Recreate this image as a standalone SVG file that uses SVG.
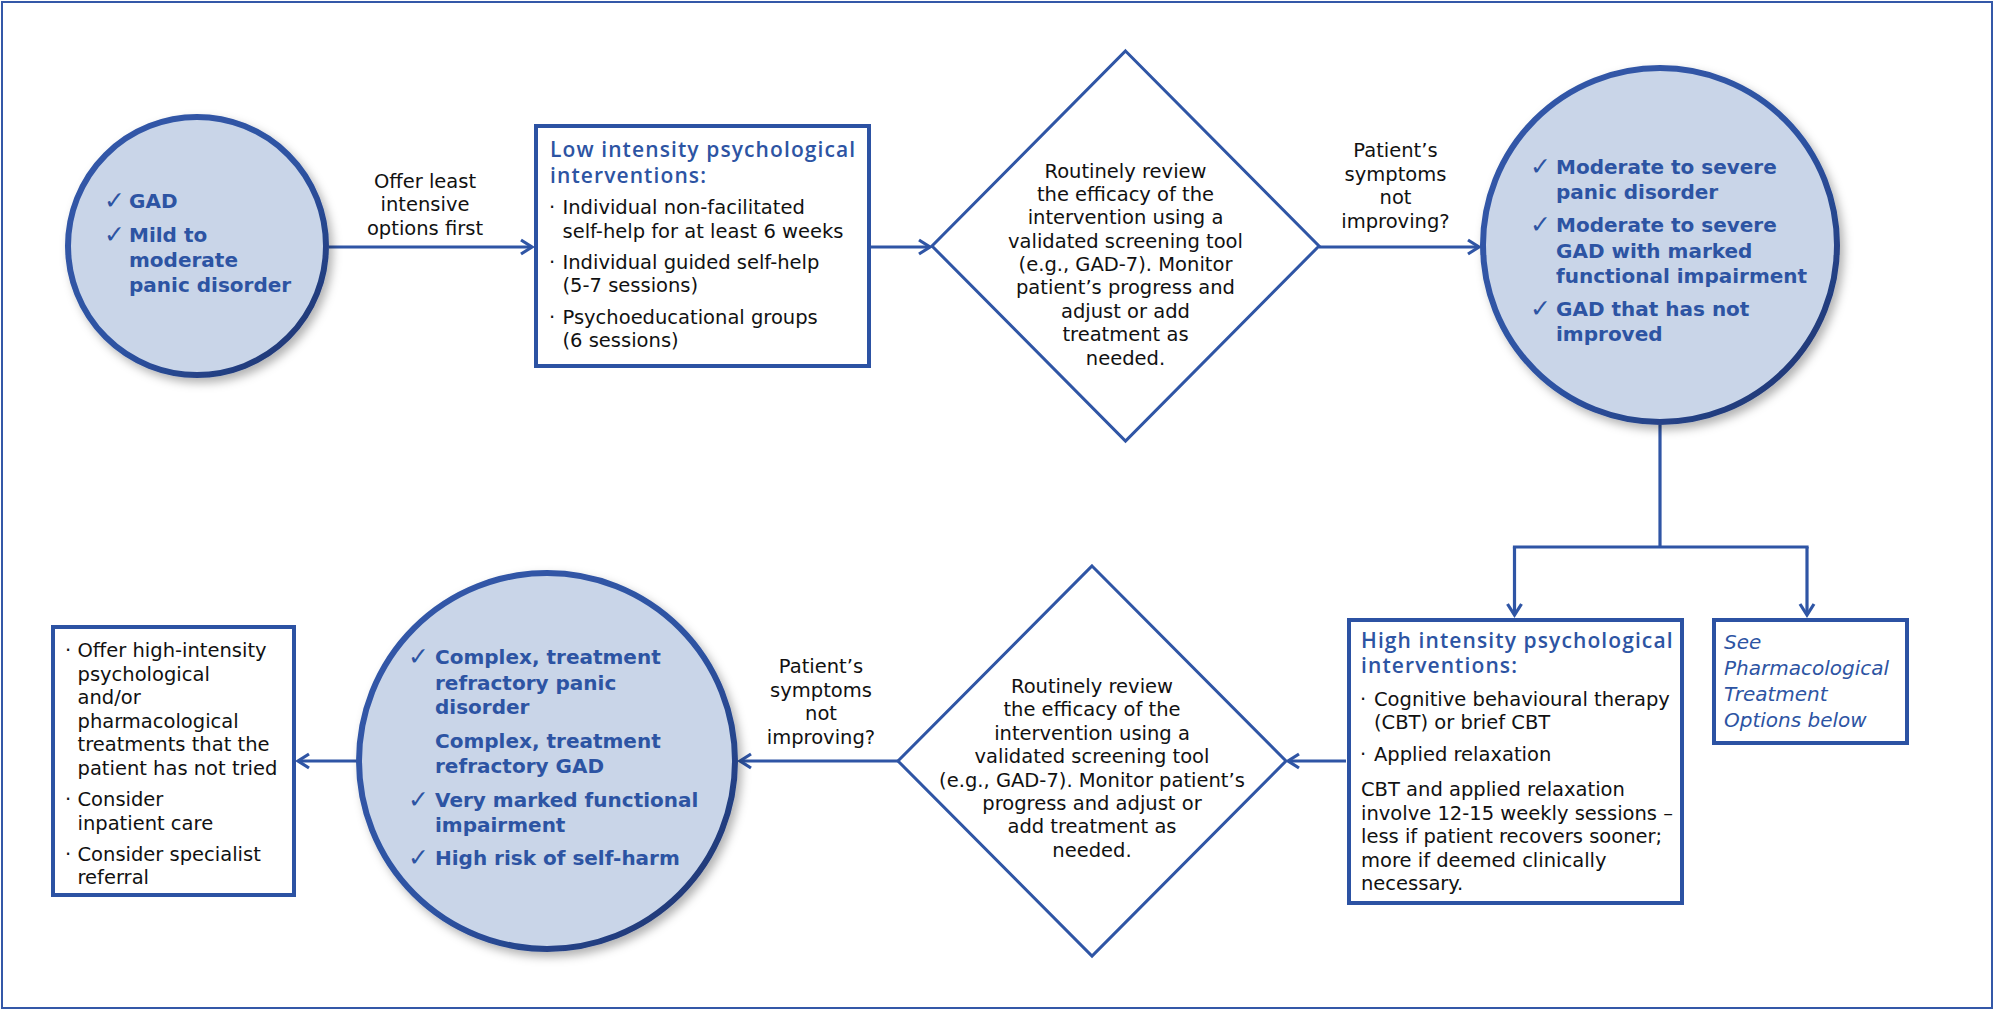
<svg xmlns="http://www.w3.org/2000/svg" width="1994" height="1010" viewBox="0 0 1994 1010">
<defs>
<style>
.bg{fill:#ffffff}
.frame{fill:none;stroke:#3458a8;stroke-width:2}
.circ{fill:#c9d5e8;stroke:url(#ringGrad);stroke-width:6;filter:url(#shadow)}
.box{fill:#ffffff;stroke:#2c52a3;stroke-width:4}
.dia{fill:#ffffff;stroke:#2f55a5;stroke-width:3}
.conn{fill:none;stroke:#2f55a5;stroke-width:3.2}
.sq{stroke-linecap:square}
.txt{font-family:"DejaVu Sans","Liberation Sans",sans-serif;font-size:19.5px;fill:#111111}
.mid{text-anchor:middle}
.bold{font-family:"DejaVu Sans","Liberation Sans",sans-serif;font-size:20px;font-weight:bold;fill:#2d54a3}
.ttl{font-family:"Open Sans","DejaVu Sans",sans-serif;font-size:21px;font-weight:600;fill:#2d54a3;letter-spacing:1.1px}
.ital{font-family:"DejaVu Sans","Liberation Sans",sans-serif;font-size:20px;font-style:italic;fill:#2d54a3}
.chk{font-family:"DejaVu Sans",sans-serif;font-size:25px;font-weight:normal;fill:#2d54a3}
</style>
<linearGradient id="ringGrad" x1="0" y1="0" x2="1" y2="1">
<stop offset="0" stop-color="#3459a9"/>
<stop offset="0.55" stop-color="#2d52a2"/>
<stop offset="1" stop-color="#1c3068"/>
</linearGradient>
<filter id="shadow" x="-20%" y="-20%" width="140%" height="140%">
<feDropShadow dx="4" dy="5" stdDeviation="5" flood-color="#000000" flood-opacity="0.3"/>
</filter>
<marker id="chev" markerUnits="userSpaceOnUse" viewBox="-14 -10 16 20" refX="0" refY="0" markerWidth="16" markerHeight="20" orient="auto" overflow="visible">
<path d="M-11,-7 L0,0 L-11,7" fill="none" stroke="#2f55a5" stroke-width="3.2"/>
</marker>
</defs>

<rect class="bg" x="0" y="0" width="1994" height="1010"/>
<rect class="frame" x="2" y="2" width="1990" height="1006"/>

<g id="connectors">
<line class="conn" x1="329" y1="247" x2="532" y2="247" marker-end="url(#chev)"/>
<line class="conn" x1="871" y1="247" x2="930" y2="247" marker-end="url(#chev)"/>
<line class="conn" x1="1319" y1="247" x2="1479" y2="247" marker-end="url(#chev)"/>
<polyline class="conn" points="1660,425 1660,547"/>
<polyline class="conn sq" points="1514.5,547 1807,547"/>
<line class="conn" x1="1514.5" y1="547" x2="1514.5" y2="615" marker-end="url(#chev)"/>
<line class="conn" x1="1807" y1="547" x2="1807" y2="615" marker-end="url(#chev)"/>
<line class="conn" x1="1346" y1="761" x2="1288" y2="761" marker-end="url(#chev)"/>
<line class="conn" x1="898" y1="761" x2="740" y2="761" marker-end="url(#chev)"/>
<line class="conn" x1="356" y1="761" x2="298" y2="761" marker-end="url(#chev)"/>
<g class="txt mid">
<text x="425" y="187.5">Offer least</text>
<text x="425" y="211">intensive</text>
<text x="425" y="234.5">options first</text>
<text x="1395.5" y="157">Patient’s</text>
<text x="1395.5" y="180.5">symptoms</text>
<text x="1395.5" y="204">not</text>
<text x="1395.5" y="227.5">improving?</text>
<text x="821" y="673">Patient’s</text>
<text x="821" y="696.5">symptoms</text>
<text x="821" y="720">not</text>
<text x="821" y="743.5">improving?</text>
</g>
</g>

<g id="node-gad">
<circle class="circ" cx="197" cy="246" r="129"/>
<text class="chk" x="104" y="209">✓</text>
<text class="chk" x="104" y="242.5">✓</text>
<g class="bold">
<text x="129" y="208">GAD</text>
<text x="129" y="241.5">Mild to</text>
<text x="129" y="267">moderate</text>
<text x="129" y="292">panic disorder</text>
</g>
</g>

<g id="node-low-intensity">
<rect class="box" x="536" y="126" width="333" height="240"/>
<text class="ttl" x="550" y="157">Low intensity psychological</text>
<text class="ttl" x="550" y="182.5">interventions:</text>
<g class="txt">
<text x="549" y="214">·</text>
<text x="562.5" y="214">Individual non-facilitated</text>
<text x="562.5" y="237.5">self-help for at least 6 weeks</text>
<text x="549" y="269">·</text>
<text x="562.5" y="269">Individual guided self-help</text>
<text x="562.5" y="292">(5-7 sessions)</text>
<text x="549" y="324">·</text>
<text x="562.5" y="324">Psychoeducational groups</text>
<text x="562.5" y="347">(6 sessions)</text>
</g>
</g>

<g id="node-review-1">
<polygon class="dia" points="1125.5,51 1319,246 1125.5,441 932,246"/>
<g class="txt mid">
<text x="1125.5" y="177.5">Routinely review</text>
<text x="1125.5" y="200.9">the efficacy of the</text>
<text x="1125.5" y="224.3">intervention using a</text>
<text x="1125.5" y="247.6">validated screening tool</text>
<text x="1125.5" y="271">(e.g., GAD-7). Monitor</text>
<text x="1125.5" y="294.4">patient’s progress and</text>
<text x="1125.5" y="317.8">adjust or add</text>
<text x="1125.5" y="341.1">treatment as</text>
<text x="1125.5" y="364.5">needed.</text>
</g>
</g>

<g id="node-moderate-severe">
<circle class="circ" cx="1660" cy="245" r="177"/>
<text class="chk" x="1530" y="175">✓</text>
<text class="chk" x="1530" y="232.7">✓</text>
<text class="chk" x="1530" y="317">✓</text>
<g class="bold">
<text x="1556" y="174">Moderate to severe</text>
<text x="1556" y="199">panic disorder</text>
<text x="1556" y="231.7">Moderate to severe</text>
<text x="1556" y="257.5">GAD with marked</text>
<text x="1556" y="282.7">functional impairment</text>
<text x="1556" y="316">GAD that has not</text>
<text x="1556" y="340.7">improved</text>
</g>
</g>

<g id="node-high-intensity">
<rect class="box" x="1349" y="620" width="333" height="283"/>
<text class="ttl" x="1361" y="648">High intensity psychological</text>
<text class="ttl" x="1361" y="673">interventions:</text>
<g class="txt">
<text x="1360" y="706">·</text>
<text x="1374" y="706">Cognitive behavioural therapy</text>
<text x="1374" y="729">(CBT) or brief CBT</text>
<text x="1360" y="761">·</text>
<text x="1374" y="761">Applied relaxation</text>
<text x="1361" y="796">CBT and applied relaxation</text>
<text x="1361" y="819.5">involve 12-15 weekly sessions –</text>
<text x="1361" y="843">less if patient recovers sooner;</text>
<text x="1361" y="866.5">more if deemed clinically</text>
<text x="1361" y="890">necessary.</text>
</g>
</g>

<g id="node-pharmacological">
<rect class="box" x="1714" y="620" width="193" height="123"/>
<g class="ital">
<text x="1724" y="649">See</text>
<text x="1724" y="675">Pharmacological</text>
<text x="1724" y="701">Treatment</text>
<text x="1724" y="727">Options below</text>
</g>
</g>

<g id="node-review-2">
<polygon class="dia" points="1092,566 1286,761 1092,956 898,761"/>
<g class="txt mid">
<text x="1092" y="692.5">Routinely review</text>
<text x="1092" y="716">the efficacy of the</text>
<text x="1092" y="739.5">intervention using a</text>
<text x="1092" y="763">validated screening tool</text>
<text x="1092" y="786.5">(e.g., GAD-7). Monitor patient’s</text>
<text x="1092" y="810">progress and adjust or</text>
<text x="1092" y="833">add treatment as</text>
<text x="1092" y="856.5">needed.</text>
</g>
</g>

<g id="node-complex">
<circle class="circ" cx="547" cy="761" r="188"/>
<text class="chk" x="408" y="664.5">✓</text>
<text class="chk" x="408" y="808">✓</text>
<text class="chk" x="408" y="866">✓</text>
<g class="bold">
<text x="435" y="663.5">Complex, treatment</text>
<text x="435" y="689.5">refractory panic</text>
<text x="435" y="714">disorder</text>
<text x="435" y="748">Complex, treatment</text>
<text x="435" y="773">refractory GAD</text>
<text x="435" y="807">Very marked functional</text>
<text x="435" y="832">impairment</text>
<text x="435" y="865">High risk of self-harm</text>
</g>
</g>

<g id="node-offer">
<rect class="box" x="53" y="627" width="241" height="268"/>
<g class="txt">
<text x="65" y="657">·</text>
<text x="77.5" y="657">Offer high-intensity</text>
<text x="77.5" y="680.5">psychological</text>
<text x="77.5" y="704">and/or</text>
<text x="77.5" y="727.5">pharmacological</text>
<text x="77.5" y="751">treatments that the</text>
<text x="77.5" y="774.5">patient has not tried</text>
<text x="65" y="806">·</text>
<text x="77.5" y="806">Consider</text>
<text x="77.5" y="829.5">inpatient care</text>
<text x="65" y="860.5">·</text>
<text x="77.5" y="860.5">Consider specialist</text>
<text x="77.5" y="884">referral</text>
</g>
</g>
</svg>
